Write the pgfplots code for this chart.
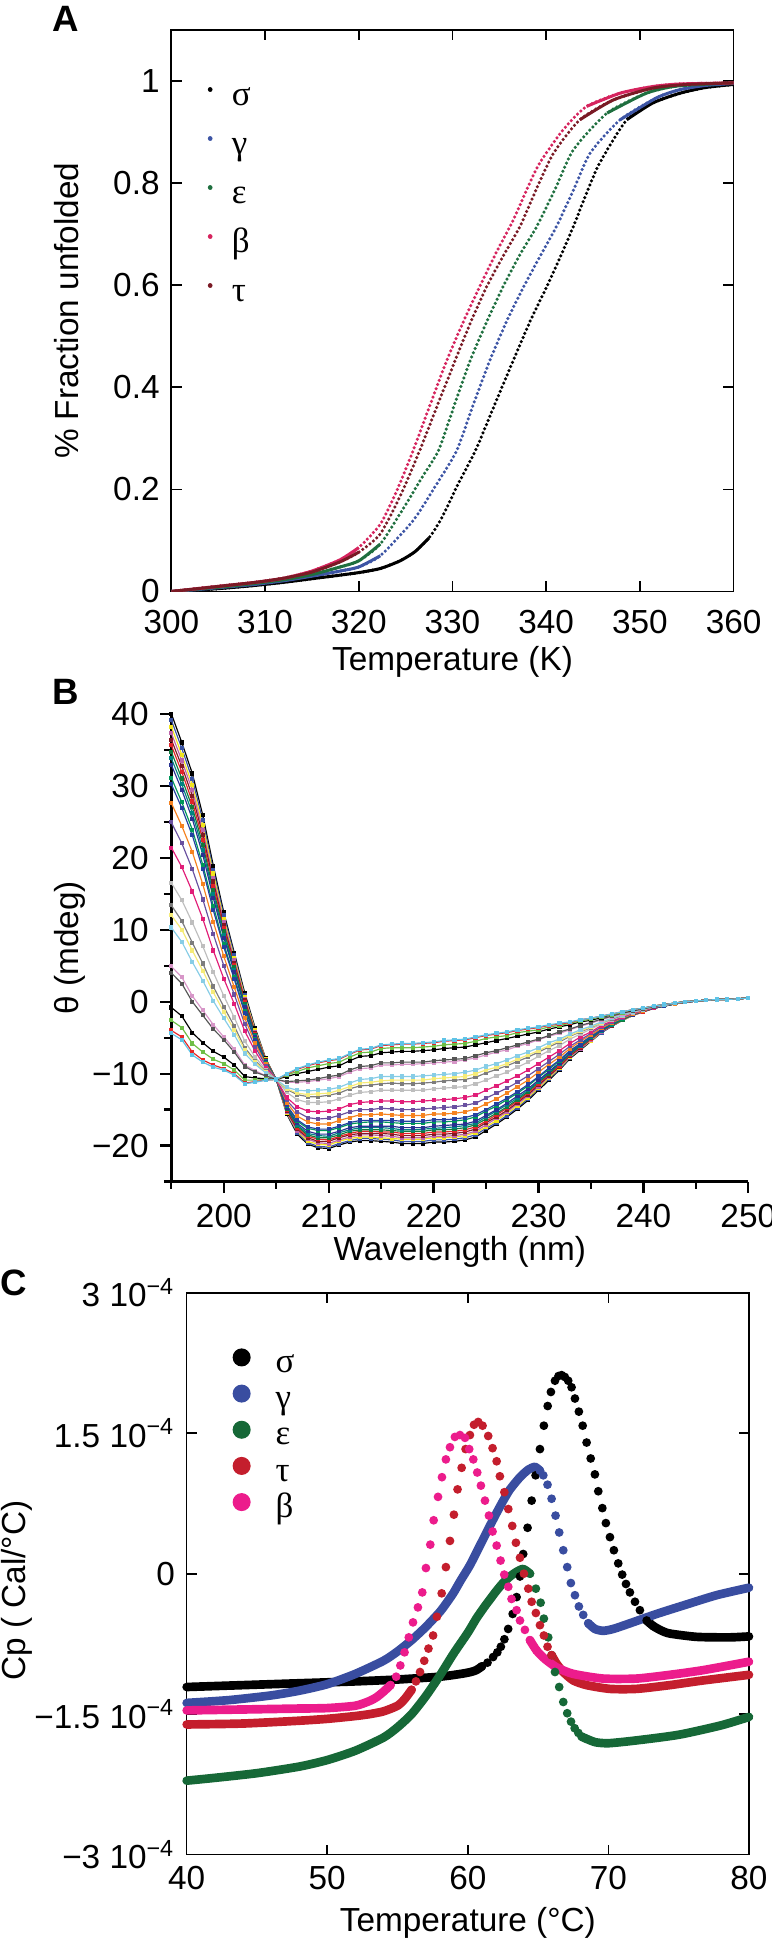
\documentclass[border=0pt]{standalone}
\usepackage{fontspec}
\setmainfont{Liberation Sans}
\newfontfamily\greek{Liberation Serif}
\usepackage{pgfplots}
\usepackage{pgfplotstable}
\pgfplotsset{compat=1.18}

% panel A colours
\definecolor{asig}{RGB}{0,0,0}
\definecolor{agam}{RGB}{61,85,165}
\definecolor{aeps}{RGB}{31,111,63}
\definecolor{abet}{RGB}{214,36,94}
\definecolor{atau}{RGB}{122,26,37}
% panel C colours
\definecolor{csig}{RGB}{0,0,0}
\definecolor{cgam}{RGB}{57,77,160}
\definecolor{ceps}{RGB}{22,104,55}
\definecolor{ctau}{RGB}{196,30,45}
\definecolor{cbet}{RGB}{236,28,140}
% panel B colours
\definecolor{bc1}{RGB}{0,0,0}
\definecolor{bc2}{RGB}{57,83,164}
\definecolor{bc3}{RGB}{240,228,30}
\definecolor{bc4}{RGB}{190,100,170}
\definecolor{bc5}{RGB}{130,25,35}
\definecolor{bc6}{RGB}{225,35,40}
\definecolor{bc7}{RGB}{20,120,60}
\definecolor{bc8}{RGB}{0,130,130}
\definecolor{bc9}{RGB}{40,50,145}
\definecolor{bc10}{RGB}{0,150,90}
\definecolor{bc11}{RGB}{35,65,160}
\definecolor{bc12}{RGB}{245,130,32}
\definecolor{bc13}{RGB}{105,80,160}
\definecolor{bc14}{RGB}{225,30,120}
\definecolor{bc15}{RGB}{190,190,190}
\definecolor{bc16}{RGB}{125,125,125}
\definecolor{bc17}{RGB}{245,235,120}
\definecolor{bc18}{RGB}{135,205,230}
\definecolor{bc19}{RGB}{215,150,200}
\definecolor{bc20}{RGB}{85,85,85}
\definecolor{bc21}{RGB}{0,0,0}
\definecolor{bc22}{RGB}{110,190,70}
\definecolor{bc23}{RGB}{230,40,40}
\definecolor{bc24}{RGB}{95,195,230}

% ---------- panel A: fraction unfolded ----------
\pgfplotstableread{
T f
300 0.000
303 0.003
306 0.007
309 0.012
312 0.018
315 0.025
318 0.032
320 0.037
322.3 0.045
324.4 0.060
326 0.078
327.5 0.105
328.7 0.139
329.6 0.172
330.45 0.205
331.5 0.242
332.6 0.282
334.5 0.366
336.5 0.453
338.3 0.530
340.06 0.597
341.5 0.655
342.9 0.715
344.3 0.780
345.7 0.839
348.6 0.924
351.4 0.957
354.3 0.976
357 0.987
360 0.993
}\Asig
\pgfplotstableread{
T f
300 0.000
303 0.004
306 0.009
309 0.014
312 0.021
315 0.030
318 0.040
320 0.048
322.3 0.070
325.8 0.139
328.3 0.210
330.45 0.276
332.2 0.365
334.0 0.453
335.8 0.530
337.6 0.597
339.3 0.655
341.1 0.715
343 0.790
344.7 0.859
347.9 0.924
351.8 0.967
354.3 0.983
357 0.991
360 0.995
}\Agam
\pgfplotstableread{
T f
300 0.000
303 0.005
306 0.010
309 0.016
312 0.023
315 0.033
318 0.048
320 0.060
322.3 0.093
325 0.170
326.8 0.225
328.5 0.276
330.2 0.365
331.9 0.453
333.7 0.530
335.4 0.597
337.2 0.660
339 0.715
341 0.790
342.9 0.865
346.5 0.937
350.7 0.976
354 0.990
360 0.996
}\Aeps
\pgfplotstableread{
T f
300 0.000
303 0.006
306 0.012
309 0.018
312 0.026
315 0.040
318 0.062
320 0.086
322.3 0.132
324 0.195
325.8 0.276
327.6 0.365
329.4 0.453
331.2 0.530
332.9 0.597
334.7 0.665
336.5 0.728
338 0.790
339.3 0.839
341.8 0.904
344.3 0.950
347.9 0.976
351.4 0.989
354.3 0.994
360 0.996
}\Abet
\pgfplotstableread{
T f
300 0.000
303 0.006
306 0.012
309 0.018
312 0.026
315 0.038
318 0.058
320 0.077
322.3 0.113
324.5 0.190
326.5 0.276
328.4 0.365
330.3 0.453
332 0.530
333.65 0.597
335.5 0.660
337.2 0.715
339 0.790
340.8 0.859
343.6 0.924
347.2 0.963
351.4 0.986
355 0.993
360 0.996
}\Atau

% ---------- panel B: CD spectra ----------
\pgfplotstableread{
wl c1 c2 c3 c4 c5 c6 c7 c8 c9 c10 c11 c12 c13 c14 c15 c16 c17 c18 c19 c20 c21 c22 c23 c24
195 40.0 39.1 38.2 37.3 36.4 35.6 34.7 33.8 32.9 31.1 30.2 27.6 24.9 21.4 16.5 13.4 12.0 10.3 4.9 4.0 -0.8 -2.6 -4.0 -4.4
196 36.0 35.2 34.3 33.5 32.7 31.9 31.0 30.2 29.4 27.7 26.9 24.4 22.0 18.7 14.1 11.2 10.0 8.3 3.4 2.5 -2.0 -3.6 -4.9 -5.3
197 31.7 30.9 30.1 29.4 28.6 27.8 27.0 26.2 25.4 23.9 23.1 20.8 18.4 15.3 11.0 8.2 7.1 5.5 0.8 0.0 -4.3 -5.8 -7.0 -7.4
198 25.9 25.2 24.5 23.8 23.2 22.5 21.8 21.1 20.4 19.0 18.4 16.3 14.2 11.5 7.7 5.3 4.3 2.9 -1.2 -1.9 -5.7 -7.0 -8.1 -8.4
199 18.9 18.3 17.8 17.2 16.7 16.1 15.5 15.0 14.4 13.3 12.7 11.1 9.4 7.1 4.1 2.1 1.3 0.1 -3.2 -3.8 -6.9 -8.0 -8.8 -9.1
200 12.4 12.0 11.5 11.1 10.6 10.2 9.8 9.3 8.9 8.0 7.6 6.3 5.0 3.2 0.8 -0.7 -1.4 -2.3 -4.9 -5.3 -7.7 -8.6 -9.3 -9.5
201 6.8 6.5 6.1 5.8 5.4 5.1 4.8 4.4 4.1 3.4 3.1 2.0 1.0 -0.3 -2.2 -3.4 -3.9 -4.6 -6.6 -7.0 -8.8 -9.5 -10.0 -10.2
202 1.2 0.9 0.7 0.4 0.2 -0.1 -0.3 -0.6 -0.8 -1.3 -1.6 -2.3 -3.1 -4.1 -5.5 -6.4 -6.7 -7.2 -8.8 -9.0 -10.4 -10.9 -11.3 -11.4
203 -3.7 -3.9 -4.0 -4.2 -4.3 -4.5 -4.6 -4.8 -4.9 -5.2 -5.4 -5.8 -6.3 -6.9 -7.7 -8.2 -8.4 -8.7 -9.6 -9.8 -10.6 -10.9 -11.1 -11.2
204 -7.9 -8.0 -8.0 -8.1 -8.1 -8.2 -8.3 -8.3 -8.4 -8.5 -8.6 -8.7 -8.9 -9.2 -9.5 -9.7 -9.8 -9.9 -10.3 -10.3 -10.7 -10.8 -10.9 -10.9
205 -10.8 -10.8 -10.8 -10.8 -10.8 -10.8 -10.8 -10.8 -10.8 -10.8 -10.8 -10.8 -10.8 -10.8 -10.8 -10.8 -10.8 -10.8 -10.8 -10.8 -10.8 -10.8 -10.8 -10.8
206 -15.6 -15.5 -15.4 -15.3 -15.2 -15.0 -14.9 -14.8 -14.7 -14.5 -14.4 -14.0 -13.7 -13.3 -12.6 -12.2 -12.1 -11.9 -11.2 -11.1 -10.4 -10.2 -10.1 -10.0
207 -18.4 -18.2 -18.0 -17.9 -17.7 -17.5 -17.3 -17.1 -16.9 -16.6 -16.4 -15.9 -15.3 -14.6 -13.6 -12.9 -12.7 -12.3 -11.2 -11.0 -10.0 -9.7 -9.4 -9.3
208 -19.8 -19.6 -19.4 -19.1 -18.9 -18.7 -18.5 -18.3 -18.0 -17.6 -17.4 -16.7 -16.1 -15.2 -14.0 -13.2 -12.9 -12.4 -11.1 -10.9 -9.7 -9.2 -8.9 -8.8
209 -20.3 -20.1 -19.8 -19.6 -19.4 -19.1 -18.9 -18.6 -18.4 -17.9 -17.7 -17.0 -16.3 -15.3 -14.0 -13.2 -12.8 -12.3 -10.9 -10.7 -9.4 -8.9 -8.5 -8.4
210 -20.4 -20.2 -19.9 -19.7 -19.4 -19.2 -18.9 -18.7 -18.4 -17.9 -17.7 -17.0 -16.2 -15.2 -13.9 -13.0 -12.7 -12.2 -10.7 -10.4 -9.1 -8.6 -8.2 -8.1
211 -19.9 -19.7 -19.4 -19.2 -18.9 -18.7 -18.5 -18.2 -18.0 -17.5 -17.3 -16.5 -15.8 -14.9 -13.5 -12.7 -12.3 -11.9 -10.4 -10.2 -8.9 -8.4 -8.0 -7.9
212 -19.5 -19.3 -19.0 -18.8 -18.5 -18.3 -18.0 -17.8 -17.5 -17.0 -16.8 -16.1 -15.3 -14.3 -13.0 -12.1 -11.8 -11.3 -9.8 -9.5 -8.2 -7.7 -7.3 -7.2
213 -19.3 -19.0 -18.8 -18.5 -18.3 -18.0 -17.8 -17.5 -17.3 -16.8 -16.5 -15.7 -15.0 -14.0 -12.6 -11.7 -11.3 -10.8 -9.3 -9.0 -7.6 -7.1 -6.7 -6.6
214 -19.3 -19.0 -18.8 -18.5 -18.3 -18.0 -17.8 -17.5 -17.3 -16.7 -16.5 -15.7 -15.0 -13.9 -12.5 -11.6 -11.2 -10.7 -9.2 -8.9 -7.5 -7.0 -6.6 -6.5
215 -19.4 -19.1 -18.9 -18.6 -18.3 -18.1 -17.8 -17.5 -17.3 -16.7 -16.5 -15.6 -14.8 -13.8 -12.3 -11.4 -11.0 -10.4 -8.8 -8.5 -7.1 -6.5 -6.1 -6.0
216 -19.5 -19.2 -19.0 -18.7 -18.4 -18.1 -17.9 -17.6 -17.3 -16.8 -16.5 -15.7 -14.9 -13.8 -12.3 -11.3 -10.9 -10.4 -8.8 -8.5 -7.0 -6.4 -6.0 -5.9
217 -19.7 -19.4 -19.1 -18.9 -18.6 -18.3 -18.0 -17.8 -17.5 -16.9 -16.6 -15.8 -15.0 -13.9 -12.3 -11.4 -10.9 -10.4 -8.7 -8.4 -6.9 -6.4 -5.9 -5.8
218 -19.7 -19.4 -19.1 -18.9 -18.6 -18.3 -18.0 -17.8 -17.5 -16.9 -16.6 -15.8 -15.0 -13.9 -12.3 -11.4 -10.9 -10.4 -8.7 -8.4 -6.9 -6.4 -5.9 -5.8
219 -19.7 -19.4 -19.1 -18.9 -18.6 -18.3 -18.0 -17.7 -17.5 -16.9 -16.6 -15.8 -14.9 -13.8 -12.3 -11.3 -10.9 -10.3 -8.6 -8.4 -6.8 -6.3 -5.8 -5.7
220 -19.5 -19.2 -18.9 -18.7 -18.4 -18.1 -17.8 -17.6 -17.3 -16.7 -16.4 -15.6 -14.8 -13.7 -12.1 -11.2 -10.7 -10.2 -8.5 -8.2 -6.7 -6.2 -5.7 -5.6
221 -19.5 -19.2 -18.9 -18.7 -18.4 -18.1 -17.8 -17.5 -17.2 -16.7 -16.4 -15.6 -14.7 -13.6 -12.0 -11.0 -10.6 -10.1 -8.4 -8.1 -6.5 -6.0 -5.5 -5.4
222 -19.4 -19.1 -18.8 -18.6 -18.3 -18.0 -17.7 -17.4 -17.1 -16.6 -16.3 -15.5 -14.6 -13.5 -11.9 -10.9 -10.5 -10.0 -8.3 -8.0 -6.4 -5.9 -5.4 -5.3
223 -19.2 -18.9 -18.6 -18.4 -18.1 -17.8 -17.5 -17.2 -17.0 -16.4 -16.1 -15.3 -14.4 -13.3 -11.8 -10.8 -10.4 -9.8 -8.1 -7.9 -6.3 -5.8 -5.3 -5.2
224 -18.8 -18.5 -18.2 -18.0 -17.7 -17.4 -17.1 -16.9 -16.6 -16.0 -15.7 -14.9 -14.1 -13.0 -11.4 -10.5 -10.0 -9.5 -7.8 -7.5 -6.0 -5.5 -5.0 -4.9
225 -17.9 -17.6 -17.4 -17.1 -16.8 -16.6 -16.3 -16.0 -15.8 -15.2 -15.0 -14.2 -13.4 -12.3 -10.9 -9.9 -9.5 -9.0 -7.4 -7.1 -5.7 -5.1 -4.7 -4.6
226 -17.0 -16.8 -16.5 -16.2 -16.0 -15.7 -15.5 -15.2 -15.0 -14.5 -14.2 -13.5 -12.7 -11.7 -10.3 -9.4 -9.1 -8.6 -7.0 -6.8 -5.4 -4.9 -4.5 -4.4
227 -16.0 -15.8 -15.5 -15.3 -15.1 -14.8 -14.6 -14.3 -14.1 -13.6 -13.4 -12.7 -12.0 -11.0 -9.8 -8.9 -8.6 -8.1 -6.7 -6.4 -5.1 -4.7 -4.3 -4.2
228 -14.9 -14.7 -14.5 -14.2 -14.0 -13.8 -13.6 -13.4 -13.1 -12.7 -12.5 -11.8 -11.2 -10.3 -9.1 -8.3 -8.0 -7.5 -6.2 -6.0 -4.8 -4.3 -4.0 -3.9
229 -13.7 -13.5 -13.3 -13.1 -12.9 -12.7 -12.5 -12.3 -12.1 -11.7 -11.5 -10.9 -10.3 -9.5 -8.4 -7.7 -7.4 -7.0 -5.8 -5.6 -4.5 -4.1 -3.8 -3.7
230 -12.3 -12.1 -12.0 -11.8 -11.6 -11.4 -11.2 -11.1 -10.9 -10.5 -10.4 -9.8 -9.3 -8.6 -7.6 -7.0 -6.8 -6.4 -5.3 -5.2 -4.2 -3.9 -3.6 -3.5
231 -10.9 -10.7 -10.6 -10.4 -10.3 -10.1 -10.0 -9.8 -9.7 -9.4 -9.2 -8.7 -8.3 -7.7 -6.8 -6.3 -6.1 -5.7 -4.8 -4.7 -3.8 -3.5 -3.3 -3.2
232 -9.5 -9.4 -9.2 -9.1 -9.0 -8.9 -8.7 -8.6 -8.5 -8.2 -8.1 -7.7 -7.3 -6.8 -6.1 -5.6 -5.4 -5.2 -4.4 -4.2 -3.5 -3.3 -3.1 -3.0
233 -7.9 -7.8 -7.7 -7.6 -7.5 -7.4 -7.3 -7.2 -7.1 -6.9 -6.8 -6.5 -6.2 -5.8 -5.2 -4.8 -4.7 -4.5 -3.9 -3.8 -3.2 -3.0 -2.9 -2.8
234 -6.7 -6.6 -6.5 -6.5 -6.4 -6.3 -6.2 -6.1 -6.0 -5.9 -5.8 -5.5 -5.3 -4.9 -4.5 -4.2 -4.1 -3.9 -3.4 -3.3 -2.8 -2.7 -2.5 -2.5
235 -5.5 -5.4 -5.4 -5.3 -5.2 -5.2 -5.1 -5.1 -5.0 -4.9 -4.8 -4.6 -4.4 -4.2 -3.8 -3.6 -3.5 -3.4 -3.0 -2.9 -2.6 -2.4 -2.3 -2.3
236 -4.3 -4.3 -4.2 -4.2 -4.1 -4.1 -4.0 -4.0 -3.9 -3.8 -3.8 -3.7 -3.5 -3.3 -3.1 -2.9 -2.9 -2.8 -2.5 -2.4 -2.2 -2.1 -2.0 -2.0
237 -3.4 -3.4 -3.3 -3.3 -3.3 -3.2 -3.2 -3.2 -3.1 -3.1 -3.0 -2.9 -2.8 -2.7 -2.5 -2.4 -2.3 -2.3 -2.1 -2.0 -1.8 -1.8 -1.7 -1.7
238 -2.6 -2.6 -2.6 -2.5 -2.5 -2.5 -2.5 -2.4 -2.4 -2.4 -2.3 -2.3 -2.2 -2.1 -2.0 -1.9 -1.8 -1.8 -1.7 -1.6 -1.5 -1.5 -1.4 -1.4
239 -1.9 -1.9 -1.9 -1.9 -1.8 -1.8 -1.8 -1.8 -1.8 -1.7 -1.7 -1.7 -1.6 -1.6 -1.5 -1.4 -1.4 -1.4 -1.3 -1.3 -1.2 -1.1 -1.1 -1.1
240 -1.4 -1.4 -1.4 -1.4 -1.4 -1.4 -1.3 -1.3 -1.3 -1.3 -1.3 -1.3 -1.2 -1.2 -1.1 -1.1 -1.1 -1.1 -1.0 -1.0 -0.9 -0.9 -0.9 -0.9
241 -0.9 -0.9 -0.9 -0.9 -0.9 -0.9 -0.9 -0.9 -0.9 -0.8 -0.8 -0.8 -0.8 -0.8 -0.7 -0.7 -0.7 -0.7 -0.7 -0.7 -0.6 -0.6 -0.6 -0.6
242 -0.6 -0.6 -0.6 -0.6 -0.6 -0.6 -0.6 -0.6 -0.6 -0.6 -0.6 -0.5 -0.5 -0.5 -0.5 -0.5 -0.5 -0.5 -0.4 -0.4 -0.4 -0.4 -0.4 -0.4
243 -0.3 -0.3 -0.3 -0.3 -0.3 -0.3 -0.3 -0.3 -0.3 -0.3 -0.3 -0.3 -0.2 -0.2 -0.2 -0.2 -0.2 -0.2 -0.2 -0.2 -0.2 -0.2 -0.2 -0.2
244 -0.1 -0.1 -0.1 -0.1 -0.1 -0.1 -0.1 -0.1 -0.1 -0.1 -0.1 -0.1 -0.1 0.0 0.0 0.0 0.0 0.0 0.0 0.0 0.0 0.0 0.0 0.0
245 0.1 0.1 0.1 0.1 0.1 0.1 0.1 0.1 0.1 0.1 0.1 0.1 0.1 0.1 0.1 0.1 0.1 0.1 0.1 0.1 0.1 0.1 0.1 0.1
246 0.2 0.2 0.2 0.2 0.2 0.2 0.2 0.2 0.2 0.2 0.2 0.2 0.2 0.2 0.2 0.2 0.2 0.2 0.2 0.2 0.2 0.2 0.2 0.2
247 0.3 0.3 0.3 0.3 0.3 0.3 0.3 0.3 0.3 0.3 0.3 0.3 0.3 0.3 0.3 0.3 0.3 0.3 0.3 0.3 0.3 0.3 0.3 0.3
248 0.4 0.4 0.4 0.4 0.4 0.4 0.4 0.4 0.4 0.4 0.4 0.4 0.3 0.3 0.3 0.3 0.3 0.3 0.3 0.3 0.3 0.3 0.3 0.3
249 0.4 0.4 0.4 0.4 0.4 0.4 0.4 0.4 0.4 0.4 0.4 0.4 0.4 0.4 0.4 0.4 0.4 0.4 0.4 0.4 0.4 0.4 0.4 0.4
250 0.5 0.5 0.5 0.5 0.5 0.5 0.5 0.5 0.5 0.5 0.5 0.5 0.5 0.5 0.5 0.5 0.5 0.5 0.5 0.5 0.5 0.5 0.5 0.5
}\CD

% ---------- panel C: DSC, Cp in units of 1e-4 Cal/degC ----------
\pgfplotstableread{
T v
40 -1.21
44 -1.19
48 -1.17
52 -1.15
55 -1.13
58 -1.10
59.5 -1.07
60.2 -1.05
60.6 -1.03
61.0 -0.99
61.4 -0.95
61.8 -0.89
62.1 -0.84
62.35 -0.78
62.6 -0.70
62.87 -0.59
63.19 -0.43
63.47 -0.25
63.71 -0.03
63.94 0.21
64.25 0.49
64.54 0.78
64.82 1.05
65.13 1.33
65.41 1.58
65.68 1.79
65.91 1.94
66.2 2.06
66.45 2.11
66.67 2.12
66.9 2.10
67.14 2.06
67.38 1.99
67.62 1.87
67.9 1.73
68.17 1.58
68.45 1.40
68.74 1.23
69.04 1.06
69.28 0.88
69.57 0.70
69.82 0.54
70.11 0.39
70.39 0.25
70.70 0.11
70.98 -0.01
71.25 -0.11
71.53 -0.20
71.89 -0.30
72.24 -0.39
72.72 -0.50
73.2 -0.56
73.8 -0.61
74.4 -0.64
76.3 -0.675
78.6 -0.68
80 -0.67
}\Csig
\pgfplotstableread{
T v
40 -1.38
43 -1.35
46 -1.30
48 -1.25
50 -1.18
52 -1.07
54 -0.93
55 -0.83
56 -0.71
57 -0.57
58 -0.41
58.5 -0.31
59 -0.20
59.5 -0.07
60.15 0.09
60.86 0.30
61.5 0.49
62.05 0.65
62.52 0.78
63.0 0.90
63.71 1.03
64.3 1.11
64.77 1.14
65.13 1.10
65.37 1.05
65.67 0.95
65.96 0.80
66.24 0.62
66.5 0.44
66.79 0.25
67.07 0.07
67.33 -0.10
67.62 -0.23
67.9 -0.35
68.21 -0.44
68.57 -0.53
69.04 -0.59
69.63 -0.61
70.35 -0.59
71.53 -0.53
73.43 -0.43
75.32 -0.34
77.69 -0.23
80 -0.15
}\Cgam
\pgfplotstableread{
T v
40 -2.21
42 -2.18
45 -2.13
48 -2.06
50 -1.99
52 -1.89
54 -1.75
55 -1.64
56 -1.50
57 -1.31
58 -1.09
59 -0.85
60 -0.63
60.6 -0.48
61.2 -0.35
61.6 -0.27
62.0 -0.19
62.5 -0.10
63.0 -0.03
63.47 0.02
63.94 0.05
64.42 0.00
64.84 -0.16
65.18 -0.31
65.41 -0.48
65.72 -0.68
65.96 -0.87
66.2 -1.05
66.5 -1.21
66.79 -1.37
67.07 -1.49
67.34 -1.58
67.6 -1.65
67.86 -1.70
68.1 -1.74
68.39 -1.76
69.09 -1.80
70.03 -1.81
72 -1.78
75 -1.72
78 -1.62
80 -1.53
}\Ceps
\pgfplotstableread{
T v
40 -1.61
44 -1.60
48 -1.57
50 -1.55
52 -1.52
53 -1.50
54 -1.47
55 -1.41
55.5 -1.34
56.0 -1.24
56.31 -1.15
56.6 -1.05
56.9 -0.93
57.2 -0.80
57.53 -0.66
57.8 -0.46
58.14 -0.21
58.44 0.07
58.73 0.35
59.01 0.63
59.27 0.90
59.56 1.13
59.84 1.33
60.15 1.48
60.44 1.59
60.74 1.62
61.05 1.58
61.45 1.47
61.76 1.34
62.05 1.20
62.28 1.04
62.6 0.87
62.88 0.69
63.16 0.51
63.42 0.33
63.71 0.17
63.99 0.00
64.3 -0.16
64.54 -0.30
64.84 -0.42
65.13 -0.55
65.41 -0.66
65.67 -0.78
65.96 -0.87
66.31 -0.96
66.79 -1.05
67.5 -1.14
68.45 -1.19
70.11 -1.23
72 -1.23
74.37 -1.19
76.74 -1.14
80 -1.08
}\Ctau
\pgfplotstableread{
T v
40 -1.46
44 -1.45
48 -1.44
50 -1.435
52 -1.41
53 -1.36
53.5 -1.32
54 -1.26
54.5 -1.19
54.9 -1.10
55.2 -0.98
55.5 -0.84
55.8 -0.68
56.1 -0.52
56.45 -0.36
56.76 -0.20
57.02 0.06
57.33 0.31
57.57 0.57
57.88 0.82
58.16 1.03
58.44 1.22
58.73 1.35
59.08 1.46
59.44 1.48
59.8 1.45
60.1 1.33
60.39 1.22
60.67 1.08
60.93 0.94
61.22 0.78
61.5 0.62
61.76 0.45
62.05 0.30
62.33 0.14
62.59 -0.01
62.88 -0.14
63.11 -0.27
63.47 -0.39
63.71 -0.50
64.06 -0.60
64.42 -0.71
64.89 -0.82
65.48 -0.91
66.31 -1.00
67.5 -1.07
69.63 -1.12
72 -1.12
74.37 -1.08
76.74 -1.03
80 -0.94
}\Cbet

\pgfplotsset{
  adot/.style={line width=1.05pt, dash pattern=on 0pt off 1.35pt, line cap=round, smooth, tension=0.4},
  aline/.style={forget plot, line width=0.9pt, line cap=butt, smooth, tension=0.4},
  cd/.style={mark=square*, mark size=0.45pt, line width=0.35pt},
  cband/.style={forget plot, line width=2.6pt, line cap=round, line join=round, smooth, tension=0.4},
  cdots/.style={only marks, mark=*, mark size=1.1pt},
}

\begin{document}
\begin{tikzpicture}
\path[use as bounding box] (0pt,0pt) rectangle (231.6pt,582pt);
\node[font=\fontsize{11}{12}\bfseries\selectfont] at (19.65pt,576.45pt) {A};
\node[font=\fontsize{11}{12}\bfseries\selectfont] at (19.65pt,374.55pt) {B};
\node[font=\fontsize{11}{12}\bfseries\selectfont] at (4.05pt,197.2pt) {C};

% ---- A ----
\begin{axis}[
  at={(51.4pt,404.55pt)}, anchor=south west, scale only axis,
  width=168.7pt, height=168.5pt,
  xmin=300, xmax=360, ymin=0, ymax=1.1,
  xtick={300,310,320,330,340,350,360},
  xticklabels={300,310,320,330,340,350,360},
  ytick={0,0.2,0.4,0.6,0.8,1},
  yticklabels={0,0.2,0.4,0.6,0.8,1},
  tick align=inside, major tick length=3.2pt,
  tick style={black, line width=0.5pt},
  axis line style={line width=0.5pt},
  xticklabel style={yshift=-2pt},
  xlabel={Temperature (K)}, ylabel={\% Fraction unfolded},
  xlabel style={at={(axis description cs:0.5,-0.125)}, anchor=center},
  ylabel style={at={(axis description cs:-0.187,0.5)}, anchor=center},
  legend style={at={(axis description cs:0.0637,0.9138)}, anchor=north west,
    draw=none, fill=none, inner sep=0pt, row sep=3.7pt, /tikz/column sep=5.8pt,
    nodes={inner sep=0pt, text height=8pt, text depth=3pt},
    font=\greek\fontsize{10.5}{12}\selectfont},
  legend cell align=left,
  legend image code/.code={\draw[#1, solid, line width=1.4pt, line cap=round] (0pt,2.3pt) -- (0.01pt,2.3pt);},
]
\addplot[asig, adot] table {\Asig}; \addlegendentry{σ}
\addplot[agam, adot] table {\Agam}; \addlegendentry{γ}
\addplot[aeps, adot] table {\Aeps}; \addlegendentry{ε}
\addplot[abet, adot] table {\Abet}; \addlegendentry{β}
\addplot[atau, adot] table {\Atau}; \addlegendentry{τ}
\addplot[asig, aline, restrict x to domain=300:328] table {\Asig};
\addplot[asig, aline, restrict x to domain=348:360] table {\Asig};
\addplot[agam, aline, restrict x to domain=300:325] table {\Agam};
\addplot[agam, aline, restrict x to domain=346:360] table {\Agam};
\addplot[aeps, aline, restrict x to domain=300:323] table {\Aeps};
\addplot[aeps, aline, restrict x to domain=344.5:360] table {\Aeps};
\addplot[abet, aline, restrict x to domain=300:321] table {\Abet};
\addplot[abet, aline, restrict x to domain=342:360] table {\Abet};
\addplot[atau, aline, restrict x to domain=300:321.5] table {\Atau};
\addplot[atau, aline, restrict x to domain=343:360] table {\Atau};
\end{axis}

% ---- B ----
\begin{axis}[
  at={(51.4pt,227.5pt)}, anchor=south west, scale only axis,
  width=173.1pt, height=140.4pt,
  xmin=195, xmax=250, ymin=-25, ymax=40,
  axis x line*=bottom, axis y line*=left,
  xtick={200,210,220,230,240,250},
  xticklabels={200,210,220,230,240,250},
  minor xtick={195,205,215,225,235,245},
  ytick={-20,-10,0,10,20,30,40},
  yticklabels={−20,−10,0,10,20,30,40},
  minor ytick={-25,-15,-5,5,15,25,35},
  tick align=outside, major tick length=3.3pt, minor tick length=2.2pt,
  tick style={black, line width=0.7pt},
  axis line style={line width=0.8pt},
  xlabel={Wavelength (nm)}, ylabel={θ (mdeg)},
  xlabel style={at={(axis description cs:0.5,-0.15)}, anchor=center},
  ylabel style={at={(axis description cs:-0.1755,0.5)}, anchor=center},
  clip=false,
]
\addplot[cd, bc1] table[x=wl, y=c1] {\CD};
\addplot[cd, bc2] table[x=wl, y=c2] {\CD};
\addplot[cd, bc3] table[x=wl, y=c3] {\CD};
\addplot[cd, bc4] table[x=wl, y=c4] {\CD};
\addplot[cd, bc5] table[x=wl, y=c5] {\CD};
\addplot[cd, bc6] table[x=wl, y=c6] {\CD};
\addplot[cd, bc7] table[x=wl, y=c7] {\CD};
\addplot[cd, bc8] table[x=wl, y=c8] {\CD};
\addplot[cd, bc9] table[x=wl, y=c9] {\CD};
\addplot[cd, bc10] table[x=wl, y=c10] {\CD};
\addplot[cd, bc11] table[x=wl, y=c11] {\CD};
\addplot[cd, bc12] table[x=wl, y=c12] {\CD};
\addplot[cd, bc13] table[x=wl, y=c13] {\CD};
\addplot[cd, bc14] table[x=wl, y=c14] {\CD};
\addplot[cd, bc15] table[x=wl, y=c15] {\CD};
\addplot[cd, bc16] table[x=wl, y=c16] {\CD};
\addplot[cd, bc17] table[x=wl, y=c17] {\CD};
\addplot[cd, bc18] table[x=wl, y=c18] {\CD};
\addplot[cd, bc19] table[x=wl, y=c19] {\CD};
\addplot[cd, bc20] table[x=wl, y=c20] {\CD};
\addplot[cd, bc21] table[x=wl, y=c21] {\CD};
\addplot[cd, bc22] table[x=wl, y=c22] {\CD};
\addplot[cd, bc23] table[x=wl, y=c23] {\CD};
\addplot[cd, bc24] table[x=wl, y=c24] {\CD};
\end{axis}

% ---- C ----
\begin{axis}[
  at={(56.0pt,25.6pt)}, anchor=south west, scale only axis,
  width=168.7pt, height=168.6pt,
  xmin=40, xmax=80, ymin=-3, ymax=3,
  xtick={40,50,60,70,80},
  xticklabels={40,50,60,70,80},
  ytick={-3,-1.5,0,1.5,3},
  yticklabels={−3 10\textsuperscript{−4},−1.5 10\textsuperscript{−4},0,1.5 10\textsuperscript{−4},3 10\textsuperscript{−4}},
  tick align=inside, major tick length=3pt,
  tick style={black, line width=0.5pt},
  axis line style={line width=0.5pt},
  xlabel={Temperature (°C)}, ylabel={Cp ( Cal/°C)},
  xlabel style={at={(axis description cs:0.5,-0.121)}, anchor=center},
  ylabel style={at={(axis description cs:-0.302,0.47)}, anchor=center},
  clip=false,
  legend style={at={(axis description cs:0.0806,0.902)}, anchor=north west,
    draw=none, fill=none, inner sep=0pt, row sep=1.1pt, /tikz/column sep=7.5pt,
    nodes={inner sep=0pt, text height=7pt, text depth=2.5pt},
    font=\greek\fontsize{10.5}{12}\selectfont},
  legend cell align=left,
  legend image code/.code={\fill[#1] (0pt,2.3pt) circle (2.5pt);},
]
\addplot[csig, cband, restrict x to domain=40:61.0] table {\Csig};
\addplot[csig, cband, restrict x to domain=72.7:80] table {\Csig};
\addplot[csig, cdots, restrict x to domain=61.0:73.2] table {\Csig}; \addlegendentry{σ}
\addplot[cgam, cband, restrict x to domain=40:65.2] table {\Cgam};
\addplot[cgam, cband, restrict x to domain=68.5:80] table {\Cgam};
\addplot[cgam, cdots, restrict x to domain=65.1:68.6] table {\Cgam}; \addlegendentry{γ}
\addplot[ceps, cband, restrict x to domain=40:64.5] table {\Ceps};
\addplot[ceps, cband, restrict x to domain=68.1:80] table {\Ceps};
\addplot[ceps, cdots, restrict x to domain=64.4:68.4] table {\Ceps}; \addlegendentry{ε}
\addplot[ctau, cband, restrict x to domain=40:56.0] table {\Ctau};
\addplot[ctau, cband, restrict x to domain=65.9:80] table {\Ctau};
\addplot[ctau, cdots, restrict x to domain=55.9:66.0] table {\Ctau}; \addlegendentry{τ}
\addplot[cbet, cband, restrict x to domain=40:54.6] table {\Cbet};
\addplot[cbet, cband, restrict x to domain=64.4:80] table {\Cbet};
\addplot[cbet, cdots, restrict x to domain=54.5:64.9] table {\Cbet}; \addlegendentry{β}
\end{axis}
\end{tikzpicture}
\end{document}
